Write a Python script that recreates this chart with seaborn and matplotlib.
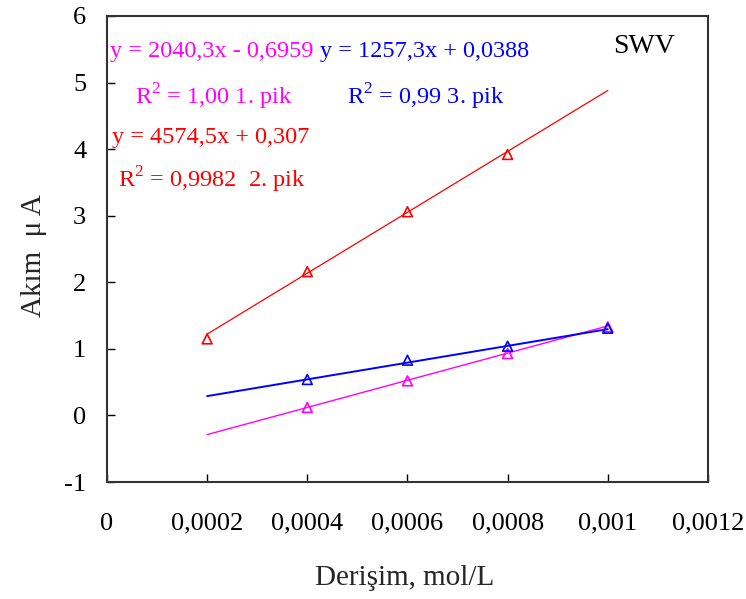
import numpy as np
import seaborn as sns
import matplotlib
matplotlib.use("Agg")
import matplotlib.pyplot as plt

# data (concentration mol/L, current uA)
x_pik1 = [0.0004, 0.0006, 0.0008, 0.001]
y_pik1 = [0.12, 0.52, 0.93, 1.33]
x_pik2 = [0.0002, 0.0004, 0.0006, 0.0008]
y_pik2 = [1.15, 2.16, 3.06, 3.92]
x_pik3 = [0.0004, 0.0006, 0.0008, 0.001]
y_pik3 = [0.54, 0.83, 1.04, 1.31]

# trendline coefficients as printed on the chart
trend_x = [0.0002, 0.001]
fit_pik1 = (2040.3, -0.6959)
fit_pik2 = (4574.5, 0.307)
fit_pik3 = (1257.3, 0.0388)

xticks = [0, 0.0002, 0.0004, 0.0006, 0.0008, 0.001, 0.0012]
xticklabels = ["0", "0,0002", "0,0004", "0,0006", "0,0008", "0,001", "0,0012"]
yticks = [-1, 0, 1, 2, 3, 4, 5, 6]
yticklabels = ["-1", "0", "1", "2", "3", "4", "5", "6"]

sns.set_style("white")
plt.rcParams['font.family'] = ['Liberation Serif', 'DejaVu Serif']
plt.rcParams['mathtext.fontset'] = 'custom'
plt.rcParams['mathtext.rm'] = 'Liberation Serif'

fig = plt.figure(figsize=(7.46, 5.99), dpi=100)
ax = fig.add_axes([0.1434, 0.1953, 0.8056, 0.778])

series = [
    (x_pik1, y_pik1, fit_pik1, "#FF00FF", 1.0),
    (x_pik2, y_pik2, fit_pik2, "#FF0000", 0.9),
    (x_pik3, y_pik3, fit_pik3, "#0000FF", 1.4),
]
tx = np.array(trend_x)
for xs, ys, (a, b), c, lw in series:
    sns.lineplot(x=tx, y=a * tx + b, color=c, linewidth=lw, ax=ax)
    sns.scatterplot(x=xs, y=ys, marker="^", s=50, facecolor="none",
                    edgecolor=c, linewidth=1.2, ax=ax, zorder=3)

ax.set_xlim(0, 0.0012)
ax.set_ylim(-1, 6)
ax.set_xticks(xticks)
ax.set_xticklabels(xticklabels)
ax.set_yticks(yticks)
ax.set_yticklabels(yticklabels)
ax.tick_params(axis="x", direction="in", length=6, width=1, labelsize=19, pad=22,
               bottom=True, colors="black")
ax.tick_params(axis="y", direction="in", length=6, width=1, labelsize=19, pad=15,
               left=True, colors="black")
for s in ax.spines.values():
    s.set_color("#333333")
    s.set_linewidth(1.5)

ax.set_xlabel("Derişim, mol/L", fontsize=21)
ax.set_ylabel("Akım  μ A", fontsize=21)
ax.xaxis.set_label_coords(0.496, -0.178)
ax.yaxis.set_label_coords(-0.1, 0.487)

def px(xp, yp):
    return ((xp - 107) / 601, (482 - yp) / 466)

labels = [
    (110, 52, "y = 2040,3x - 0,6959", "#FF00FF", 17.5),
    (135, 97, "R$^2$ = 1,00 1. pik", "#FF00FF", 17.5),
    (112, 138, "y = 4574,5x + 0,307", "#FF0000", 17.5),
    (118, 180, "R$^2$ = 0,9982  2. pik", "#FF0000", 17.5),
    (320, 52, "y = 1257,3x + 0,0388", "#0000FF", 17.5),
    (347, 97, "R$^2$ = 0,99 3. pik", "#0000FF", 17.5),
    (613, 47, "SWV", "black", 20),
]
for xp, yp, t, c, fs in labels:
    fx, fy = px(xp, yp)
    ax.text(fx, fy, t, color=c, fontsize=fs, ha="left", va="center",
            transform=ax.transAxes)

fig.savefig("out.png", dpi=100)
